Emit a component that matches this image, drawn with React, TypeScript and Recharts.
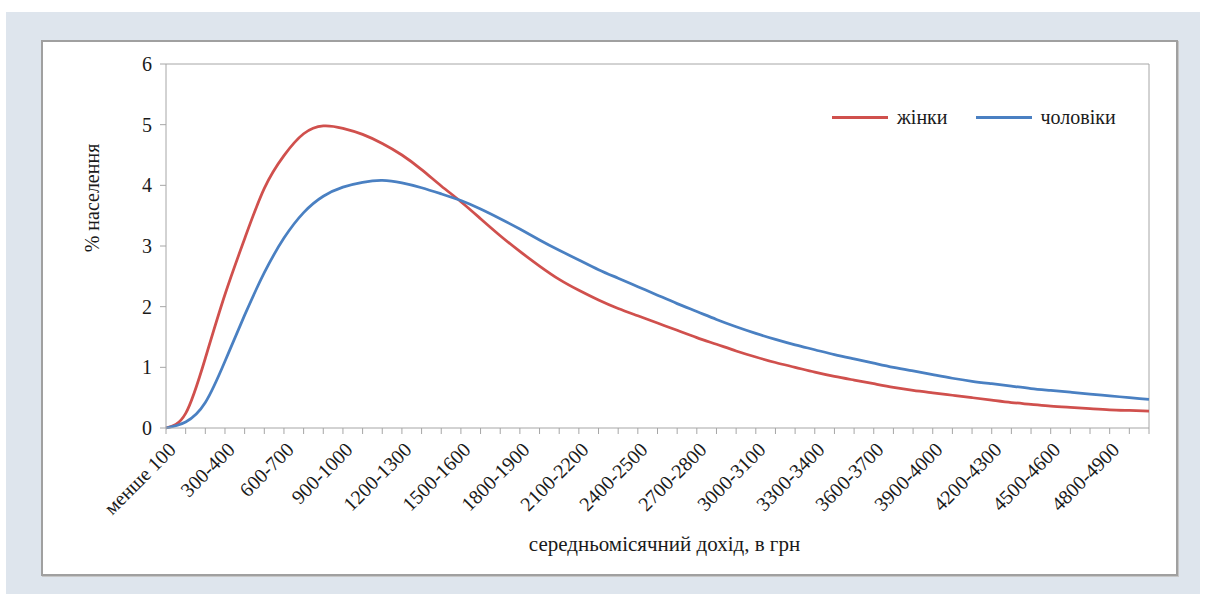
import { LineChart, Line, XAxis, YAxis, Legend, ReferenceLine } from "recharts";

// доходні інтервали, грн
const categories = [
  "менше 100", "100-200", "200-300", "300-400", "400-500", "500-600", "600-700",
  "700-800", "800-900", "900-1000", "1000-1100", "1100-1200", "1200-1300",
  "1300-1400", "1400-1500", "1500-1600", "1600-1700", "1700-1800", "1800-1900",
  "1900-2000", "2000-2100", "2100-2200", "2200-2300", "2300-2400", "2400-2500",
  "2500-2600", "2600-2700", "2700-2800", "2800-2900", "2900-3000", "3000-3100",
  "3100-3200", "3200-3300", "3300-3400", "3400-3500", "3500-3600", "3600-3700",
  "3700-3800", "3800-3900", "3900-4000", "4000-4100", "4100-4200", "4200-4300",
  "4300-4400", "4400-4500", "4500-4600", "4600-4700", "4700-4800", "4800-4900",
  "4900-5000", "понад 5000",
];

const women = [
  0, 0.24, 1.15, 2.2, 3.12, 3.95, 4.49, 4.85, 4.98, 4.94,
  4.84, 4.69, 4.5, 4.26, 3.99, 3.73, 3.45, 3.17, 2.91, 2.67,
  2.45, 2.27, 2.11, 1.97, 1.85, 1.73, 1.61, 1.49, 1.38, 1.27,
  1.17, 1.08, 1.0, 0.92, 0.85, 0.79, 0.73, 0.67, 0.62, 0.58,
  0.54, 0.5, 0.46, 0.42, 0.39, 0.36, 0.34, 0.32, 0.3, 0.29, 0.28,
];

const men = [
  0, 0.1, 0.42, 1.1, 1.86, 2.56, 3.13, 3.55, 3.82, 3.97,
  4.05, 4.08, 4.04, 3.96, 3.86, 3.75, 3.61, 3.45, 3.28, 3.1,
  2.93, 2.77, 2.61, 2.47, 2.33, 2.19, 2.05, 1.92, 1.79, 1.67,
  1.56, 1.46, 1.37, 1.29, 1.21, 1.14, 1.07, 1.0, 0.94, 0.88,
  0.82, 0.77, 0.73, 0.69, 0.65, 0.62, 0.59, 0.56, 0.53, 0.5, 0.47,
];

const yTicks = [0, 1, 2, 3, 4, 5, 6];

const data = categories.map((cat, i) => ({ cat, women: women[i], men: men[i] }));

const FONT = '"Liberation Serif", Tinos, "Times New Roman", serif';
const AXIS = "#a6a6a6";
const RED = "#d0504d";
const BLUE = "#4a80c2";
const TEXT = "#1a1a1a";

// підпис лише для кожної третьої категорії, риски — для всіх
function IncomeTick(props: any) {
  const { x, y, payload, index } = props;
  if (index % 3 !== 0) return <g />;
  const ax = x + 11;
  const ay = y + 15;
  return (
    <text
      x={ax}
      y={ay}
      transform={`rotate(-45, ${ax}, ${ay})`}
      textAnchor="end"
      fontSize={20}
      fontFamily={FONT}
      fill={TEXT}
    >
      {payload.value}
    </text>
  );
}

function LegendRow(props: any) {
  const items = props.payload || [];
  return (
    <div style={{ display: "flex", alignItems: "center", fontFamily: FONT, fontSize: 20, color: TEXT }}>
      {items.map((item: any) => (
        <div key={item.value} style={{ display: "flex", alignItems: "center", marginRight: 28 }}>
          <span style={{ display: "inline-block", width: 56, height: 3, background: item.color, marginRight: 9 }} />
          <span>{item.value}</span>
        </div>
      ))}
    </div>
  );
}

export default function App() {
  return (
    <div style={{ position: "absolute", left: 0, top: 0, width: 1206, height: 594, background: "#fff", overflow: "hidden" }}>
      <div style={{ position: "absolute", left: 6, top: 12, width: 1194, height: 582, background: "#dee5ed" }} />
      <div
        style={{
          position: "absolute",
          left: 41,
          top: 40,
          width: 1137,
          height: 536,
          background: "#fff",
          border: "2px solid #a0a0a0",
          boxSizing: "border-box",
          boxShadow: "1px 1px 0 #c6c6c6",
        }}
      />
      <div style={{ position: "absolute", left: 0, top: 0 }}>
        <LineChart
          width={1206}
          height={594}
          data={data}
          margin={{ top: 64, right: 57, left: 106, bottom: 66 }}
          style={{ fontFamily: FONT }}
        >
          <XAxis
            dataKey="cat"
            interval={0}
            height={100}
            stroke={AXIS}
            tickLine={{ stroke: AXIS }}
            tickSize={6}
            tick={<IncomeTick />}
            label={{
              content: (p: any) => {
                const vb = p.viewBox;
                return (
                  <text x={vb.x + vb.width / 2 + 7} y={vb.y + 123} textAnchor="middle" fontSize={21} fontFamily={FONT} fill={TEXT}>
                    середньомісячний дохід, в грн
                  </text>
                );
              },
            }}
          />
          <YAxis
            domain={[0, 6]}
            ticks={yTicks}
            width={60}
            stroke={AXIS}
            tickLine={{ stroke: AXIS }}
            tickSize={6}
            tickMargin={8}
            tick={{ fontSize: 20, fill: TEXT, fontFamily: FONT }}
            label={{
              content: (p: any) => {
                const vb = p.viewBox;
                const lx = 99;
                const ly = vb.y + 134;
                return (
                  <text x={lx} y={ly} transform={`rotate(-90, ${lx}, ${ly})`} textAnchor="middle" fontSize={20} fontFamily={FONT} fill={TEXT}>
                    % населення
                  </text>
                );
              },
            }}
          />
          <ReferenceLine y={6} stroke={AXIS} />
          <ReferenceLine x={categories[categories.length - 1]} stroke={AXIS} />
          <Legend
            layout="horizontal"
            align="center"
            verticalAlign="middle"
            content={<LegendRow />}
            wrapperStyle={{ left: 832, top: 106, width: "auto", height: "auto" }}
          />
          <Line
            name="жінки"
            dataKey="women"
            type="natural"
            stroke={RED}
            strokeWidth={2.75}
            dot={false}
            isAnimationActive={false}
          />
          <Line
            name="чоловіки"
            dataKey="men"
            type="natural"
            stroke={BLUE}
            strokeWidth={2.75}
            dot={false}
            isAnimationActive={false}
          />
        </LineChart>
      </div>
    </div>
  );
}
